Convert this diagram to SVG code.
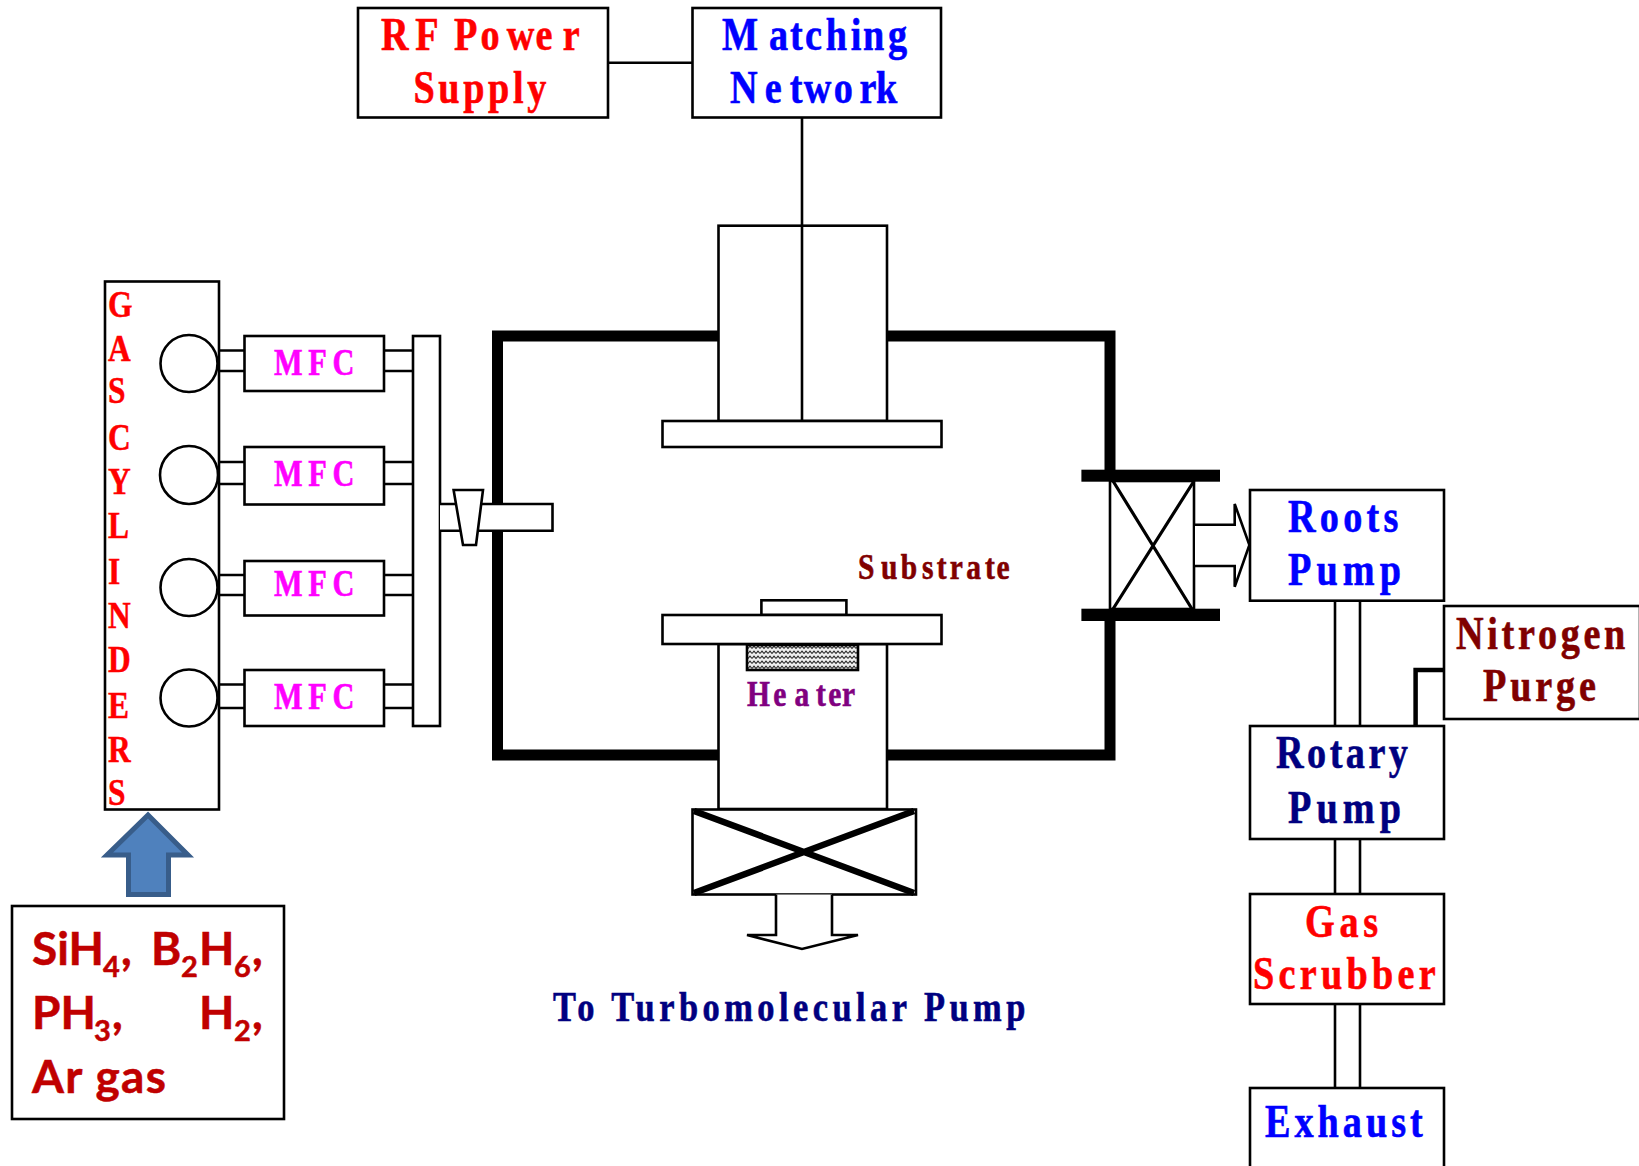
<svg xmlns="http://www.w3.org/2000/svg" width="1639" height="1166" viewBox="0 0 1639 1166">
<style>
.b{fill:#fff;stroke:#000;stroke-width:2.6}
.n{fill:none;stroke:#000;stroke-width:2.6}
.w{fill:none;stroke:#000;stroke-width:11}
.t{font-family:"Liberation Serif","Times New Roman",serif;font-weight:700;font-size:46px;stroke-width:.6}
.s{font-size:36px}
.m{font-size:37px;fill:#f0f;stroke:#f0f}
.g{font-size:37px;fill:#f00;stroke:#f00;stroke-width:.5}
.red{fill:#f00;stroke:#f00}
.blue{fill:#00f;stroke:#00f}
.navy{fill:#000080;stroke:#000080}
.maroon{fill:#800000;stroke:#800000}
.purple{fill:#800080;stroke:#800080}
.c{font-family:Lato,"Open Sans",sans-serif;font-weight:700;font-size:46px;fill:#c00000;stroke:#c00000;stroke-width:.5}
.c .u{font-size:29px}
</style>
<defs>
<pattern id="wave" width="8" height="5" patternUnits="userSpaceOnUse">
<rect width="8" height="5" fill="#eee"/>
<path d="M0 3.500 L2 1.200 L4 3.500 L6 1.200 L8 3.500" fill="none" stroke="#222" stroke-width="1.100"/>
</pattern>
</defs>
<rect width="1639" height="1166" fill="#fff"/>

<g id="connectors">
<path class="n" d="M608 62.700H692.500M802 117V225"/>
<path class="n" d="M219 350.500H244.500M219 371H244.500M219 462H244.500M219 484H244.500M219 575H244.500M219 595H244.500M219 684.500H244.500M219 708H244.500"/>
<path class="n" d="M384 350.500H413M384 371H413M384 462H413M384 484H413M384 575H413M384 595H413M384 684.500H413M384 708H413"/>
<path class="n" d="M1335 600.700V726M1360 600.700V726M1335 839V894M1360 839V894M1335 1004V1088M1360 1004V1088"/>
<path class="n" style="stroke-width:4.500" d="M1415.600 726V670H1444"/>
</g>

<g id="chamber">
<path class="w" d="M718 336H497.500V755H718M887 336H1110V470M887 755H1110V621"/>
</g>

<g id="upper-electrode">
<rect class="b" x="718.500" y="225.700" width="168.500" height="195.300"/>
<path class="n" d="M802 225.700V421"/>
<rect class="b" x="662.500" y="421" width="279" height="26"/>
</g>

<g id="gas-cylinders">
<rect class="b" x="105" y="281.500" width="114" height="528"/>
<circle class="b" cx="189" cy="363.500" r="28.500"/>
<circle class="b" cx="189" cy="475" r="29"/>
<circle class="b" cx="189" cy="587.500" r="28.500"/>
<circle class="b" cx="189" cy="698" r="28.500"/>
<g class="t g">
<text transform="translate(108 317) scale(.85 1)">G</text>
<text transform="translate(108 361) scale(.85 1)">A</text>
<text transform="translate(108 403) scale(.85 1)">S</text>
<text transform="translate(108 450) scale(.85 1)">C</text>
<text transform="translate(108 494) scale(.85 1)">Y</text>
<text transform="translate(108 538) scale(.85 1)">L</text>
<text transform="translate(108 584) scale(.85 1)">I</text>
<text transform="translate(108 628) scale(.85 1)">N</text>
<text transform="translate(108 672) scale(.85 1)">D</text>
<text transform="translate(108 718) scale(.85 1)">E</text>
<text transform="translate(108 762) scale(.85 1)">R</text>
<text transform="translate(108 804.500) scale(.85 1)">S</text>
</g>
</g>

<g id="mfc-1"><rect class="b" x="244.500" y="336" width="139.500" height="55"/><text class="t m" transform="translate(274 374.600) scale(.82 1)" textLength="98" lengthAdjust="spacing">MFC</text></g>
<g id="mfc-2"><rect class="b" x="244.500" y="447" width="139.500" height="57.500"/><text class="t m" transform="translate(274 485.500) scale(.82 1)" textLength="98" lengthAdjust="spacing">MFC</text></g>
<g id="mfc-3"><rect class="b" x="244.500" y="561" width="139.500" height="54.500"/><text class="t m" transform="translate(274 596) scale(.82 1)" textLength="98" lengthAdjust="spacing">MFC</text></g>
<g id="mfc-4"><rect class="b" x="244.500" y="670" width="139.500" height="56"/><text class="t m" transform="translate(274 708.500) scale(.82 1)" textLength="98" lengthAdjust="spacing">MFC</text></g>

<g id="manifold"><rect class="b" x="413" y="336" width="27" height="390"/></g>

<g id="gas-inlet">
<path class="b" d="M440 504H552.500V530.700H440"/>
<path class="b" d="M453.600 490H483L476 545H463Z"/>
</g>

<g id="substrate-holder">
<rect class="b" x="761.400" y="600.300" width="85" height="14.700"/>
<rect class="b" x="718.500" y="644" width="168.500" height="165"/>
<rect class="b" x="662.500" y="615" width="279" height="29"/>
<rect x="747" y="645" width="111" height="25" fill="url(#wave)" stroke="#000" stroke-width="2.600"/>
<text class="t s purple" transform="translate(747 705.500) scale(.82 1)" x="0 32 58 84 99 116">Heater</text>
</g>
<text id="substrate-label" class="t s maroon" transform="translate(858 578.500) scale(.82 1)" x="0 28 52 78 96 112 132 155 169">Substrate</text>

<g id="bottom-valve">
<rect class="b" x="692.500" y="809.500" width="223.500" height="85"/>
<path d="M694 811L914 893M914 811L694 893" fill="none" stroke="#000" stroke-width="6.500"/>
<path class="b" d="M776 894.500V935H747L802 949L858 935H832V894.500"/>
</g>
<text id="turbo-label" class="t navy" style="font-size:42px" transform="translate(553 1021) scale(.82 1)" textLength="576" lengthAdjust="spacing">To Turbomolecular Pump</text>

<g id="side-valve">
<rect class="b" x="1110" y="481" width="84" height="128"/>
<path d="M1113 481L1192 609M1194 481L1113 609" fill="none" stroke="#000" stroke-width="3.200"/>
<rect x="1081.400" y="469.700" width="138.600" height="12"/>
<rect x="1081.400" y="608.700" width="138.600" height="12.300"/>
<path class="b" d="M1195 524.700H1234.700V504L1249.400 545L1234.700 586.700V566H1195"/>
</g>

<g id="rf-power"><rect class="b" x="358" y="8" width="250" height="109.500"/>
<text class="t red" transform="translate(381 50) scale(.83 1)" x="0 41.400 70 88 120 151.500 186 219">RF Power</text>
<text class="t red" transform="translate(413.500 102.500) scale(.83 1)" textLength="160" lengthAdjust="spacing">Supply</text></g>
<g id="matching-network"><rect class="b" x="692.500" y="8" width="248.500" height="109.500"/>
<text class="t blue" transform="translate(722 50) scale(.83 1)" x="0 56.600 82 100 125 155 170 200">Matching</text>
<text class="t blue" transform="translate(730 102.500) scale(.83 1)" x="0 42 72 89 125 156 176">Network</text></g>

<g id="roots-pump"><rect class="b" x="1250" y="490" width="194" height="110.700"/>
<text class="t blue" transform="translate(1288 531.700) scale(.83 1)" textLength="133" lengthAdjust="spacing">Roots</text>
<text class="t blue" transform="translate(1288 585) scale(.83 1)" textLength="136" lengthAdjust="spacing">Pump</text></g>
<g id="nitrogen-purge"><rect class="b" x="1444" y="606" width="196" height="113"/>
<text class="t maroon" transform="translate(1456 649) scale(.83 1)" textLength="204" lengthAdjust="spacing">Nitrogen</text>
<text class="t maroon" transform="translate(1483 700.500) scale(.83 1)" textLength="136" lengthAdjust="spacing">Purge</text></g>
<g id="rotary-pump"><rect class="b" x="1250" y="726" width="194" height="113"/>
<text class="t navy" transform="translate(1276 768) scale(.83 1)" textLength="159" lengthAdjust="spacing">Rotary</text>
<text class="t navy" transform="translate(1288 822.500) scale(.83 1)" textLength="136" lengthAdjust="spacing">Pump</text></g>
<g id="gas-scrubber"><rect class="b" x="1250" y="894" width="194" height="110"/>
<text class="t red" transform="translate(1305 936.700) scale(.83 1)" textLength="88" lengthAdjust="spacing">Gas</text>
<text class="t red" transform="translate(1253 988.500) scale(.83 1)" textLength="220" lengthAdjust="spacing">Scrubber</text></g>
<g id="exhaust"><rect class="b" x="1250" y="1088" width="194" height="90"/>
<text class="t blue" transform="translate(1265 1137) scale(.83 1)" textLength="190" lengthAdjust="spacing">Exhaust</text></g>

<g id="feed-arrow"><path d="M148 815L107 855H128.500V894.500H168.500V855H188Z" fill="#4f81bd" stroke="#385d8a" stroke-width="5"/></g>

<g id="gas-mix"><rect class="b" x="12" y="906" width="272" height="213"/>
<text class="c"><tspan x="32" y="965">SiH</tspan><tspan class="u" x="103" y="977">4</tspan><tspan x="121" y="965">,</tspan><tspan x="151" y="965">B</tspan><tspan class="u" x="181" y="977">2</tspan><tspan x="199" y="965">H</tspan><tspan class="u" x="234" y="977">6</tspan><tspan x="252" y="965">,</tspan></text>
<text class="c"><tspan x="32" y="1029">PH</tspan><tspan class="u" x="94" y="1041">3</tspan><tspan x="112" y="1029">,</tspan><tspan x="199" y="1029">H</tspan><tspan class="u" x="234" y="1041">2</tspan><tspan x="252" y="1029">,</tspan></text>
<text class="c" x="32" y="1093" textLength="134" lengthAdjust="spacing">Ar gas</text>
</g>
</svg>
